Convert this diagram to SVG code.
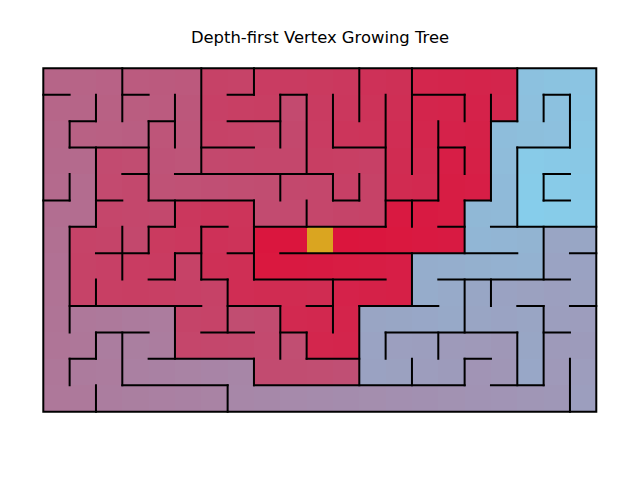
<svg xmlns="http://www.w3.org/2000/svg" width="640" height="480" viewBox="0 0 640 480">
<style>
.title{font-family:"DejaVu Sans","Liberation Sans",sans-serif;font-size:16.4px;fill:#000;text-anchor:middle}
.walls{fill:none;stroke:#000;stroke-width:2;stroke-linecap:square;vector-effect:non-scaling-stroke}
</style>
<defs>
<filter id="cmap" x="0" y="0" width="1" height="1" color-interpolation-filters="sRGB">
<feComponentTransfer>
<feFuncR type="linear" slope="-0.6204" intercept="0.8627"/>
<feFuncG type="linear" slope="1.3577" intercept="0.0784"/>
<feFuncB type="linear" slope="1.2774" intercept="0.2353"/>
</feComponentTransfer>
</filter>
</defs>
<rect width="640" height="480" fill="#fff"/>
<text class="title" x="320" y="43">Depth-first Vertex Growing Tree</text>
<g id="maze" transform="translate(43.3 68.3) scale(26.333 26.415)">
<g id="cells" filter="url(#cmap)" shape-rendering="crispEdges">
<rect x="0" y="0" width="1" height="1" fill="rgb(60,60,60)"/><rect x="1" y="0" width="1" height="1" fill="rgb(59,59,59)"/><rect x="2" y="0" width="1" height="1" fill="rgb(58,58,58)"/><rect x="3" y="0" width="1" height="1" fill="rgb(53,53,53)"/><rect x="4" y="0" width="1" height="1" fill="rgb(52,52,52)"/><rect x="5" y="0" width="1" height="1" fill="rgb(51,51,51)"/><rect x="6" y="0" width="1" height="1" fill="rgb(34,34,34)"/><rect x="7" y="0" width="1" height="1" fill="rgb(35,35,35)"/><rect x="8" y="0" width="1" height="1" fill="rgb(30,30,30)"/><rect x="9" y="0" width="1" height="1" fill="rgb(29,29,29)"/><rect x="10" y="0" width="1" height="1" fill="rgb(28,28,28)"/><rect x="11" y="0" width="1" height="1" fill="rgb(27,27,27)"/><rect x="12" y="0" width="1" height="1" fill="rgb(22,22,22)"/><rect x="13" y="0" width="1" height="1" fill="rgb(21,21,21)"/><rect x="14" y="0" width="1" height="1" fill="rgb(14,14,14)"/><rect x="15" y="0" width="1" height="1" fill="rgb(13,13,13)"/><rect x="16" y="0" width="1" height="1" fill="rgb(12,12,12)"/><rect x="17" y="0" width="1" height="1" fill="rgb(13,13,13)"/><rect x="18" y="0" width="1" height="1" fill="rgb(128,128,128)"/><rect x="19" y="0" width="1" height="1" fill="rgb(129,129,129)"/><rect x="20" y="0" width="1" height="1" fill="rgb(130,130,130)"/>
<rect x="0" y="1" width="1" height="1" fill="rgb(61,61,61)"/><rect x="1" y="1" width="1" height="1" fill="rgb(60,60,60)"/><rect x="2" y="1" width="1" height="1" fill="rgb(57,57,57)"/><rect x="3" y="1" width="1" height="1" fill="rgb(54,54,54)"/><rect x="4" y="1" width="1" height="1" fill="rgb(53,53,53)"/><rect x="5" y="1" width="1" height="1" fill="rgb(50,50,50)"/><rect x="6" y="1" width="1" height="1" fill="rgb(33,33,33)"/><rect x="7" y="1" width="1" height="1" fill="rgb(32,32,32)"/><rect x="8" y="1" width="1" height="1" fill="rgb(31,31,31)"/><rect x="9" y="1" width="1" height="1" fill="rgb(40,40,40)"/><rect x="10" y="1" width="1" height="1" fill="rgb(29,29,29)"/><rect x="11" y="1" width="1" height="1" fill="rgb(26,26,26)"/><rect x="12" y="1" width="1" height="1" fill="rgb(23,23,23)"/><rect x="13" y="1" width="1" height="1" fill="rgb(20,20,20)"/><rect x="14" y="1" width="1" height="1" fill="rgb(13,13,13)"/><rect x="15" y="1" width="1" height="1" fill="rgb(12,12,12)"/><rect x="16" y="1" width="1" height="1" fill="rgb(11,11,11)"/><rect x="17" y="1" width="1" height="1" fill="rgb(14,14,14)"/><rect x="18" y="1" width="1" height="1" fill="rgb(127,127,127)"/><rect x="19" y="1" width="1" height="1" fill="rgb(128,128,128)"/><rect x="20" y="1" width="1" height="1" fill="rgb(131,131,131)"/>
<rect x="0" y="2" width="1" height="1" fill="rgb(62,62,62)"/><rect x="1" y="2" width="1" height="1" fill="rgb(57,57,57)"/><rect x="2" y="2" width="1" height="1" fill="rgb(56,56,56)"/><rect x="3" y="2" width="1" height="1" fill="rgb(55,55,55)"/><rect x="4" y="2" width="1" height="1" fill="rgb(48,48,48)"/><rect x="5" y="2" width="1" height="1" fill="rgb(49,49,49)"/><rect x="6" y="2" width="1" height="1" fill="rgb(34,34,34)"/><rect x="7" y="2" width="1" height="1" fill="rgb(35,35,35)"/><rect x="8" y="2" width="1" height="1" fill="rgb(36,36,36)"/><rect x="9" y="2" width="1" height="1" fill="rgb(39,39,39)"/><rect x="10" y="2" width="1" height="1" fill="rgb(30,30,30)"/><rect x="11" y="2" width="1" height="1" fill="rgb(25,25,25)"/><rect x="12" y="2" width="1" height="1" fill="rgb(24,24,24)"/><rect x="13" y="2" width="1" height="1" fill="rgb(19,19,19)"/><rect x="14" y="2" width="1" height="1" fill="rgb(14,14,14)"/><rect x="15" y="2" width="1" height="1" fill="rgb(11,11,11)"/><rect x="16" y="2" width="1" height="1" fill="rgb(10,10,10)"/><rect x="17" y="2" width="1" height="1" fill="rgb(125,125,125)"/><rect x="18" y="2" width="1" height="1" fill="rgb(126,126,126)"/><rect x="19" y="2" width="1" height="1" fill="rgb(127,127,127)"/><rect x="20" y="2" width="1" height="1" fill="rgb(132,132,132)"/>
<rect x="0" y="3" width="1" height="1" fill="rgb(63,63,63)"/><rect x="1" y="3" width="1" height="1" fill="rgb(64,64,64)"/><rect x="2" y="3" width="1" height="1" fill="rgb(41,41,41)"/><rect x="3" y="3" width="1" height="1" fill="rgb(42,42,42)"/><rect x="4" y="3" width="1" height="1" fill="rgb(47,47,47)"/><rect x="5" y="3" width="1" height="1" fill="rgb(48,48,48)"/><rect x="6" y="3" width="1" height="1" fill="rgb(39,39,39)"/><rect x="7" y="3" width="1" height="1" fill="rgb(38,38,38)"/><rect x="8" y="3" width="1" height="1" fill="rgb(37,37,37)"/><rect x="9" y="3" width="1" height="1" fill="rgb(38,38,38)"/><rect x="10" y="3" width="1" height="1" fill="rgb(31,31,31)"/><rect x="11" y="3" width="1" height="1" fill="rgb(32,32,32)"/><rect x="12" y="3" width="1" height="1" fill="rgb(33,33,33)"/><rect x="13" y="3" width="1" height="1" fill="rgb(18,18,18)"/><rect x="14" y="3" width="1" height="1" fill="rgb(15,15,15)"/><rect x="15" y="3" width="1" height="1" fill="rgb(8,8,8)"/><rect x="16" y="3" width="1" height="1" fill="rgb(9,9,9)"/><rect x="17" y="3" width="1" height="1" fill="rgb(124,124,124)"/><rect x="18" y="3" width="1" height="1" fill="rgb(135,135,135)"/><rect x="19" y="3" width="1" height="1" fill="rgb(134,134,134)"/><rect x="20" y="3" width="1" height="1" fill="rgb(133,133,133)"/>
<rect x="0" y="4" width="1" height="1" fill="rgb(64,64,64)"/><rect x="1" y="4" width="1" height="1" fill="rgb(65,65,65)"/><rect x="2" y="4" width="1" height="1" fill="rgb(40,40,40)"/><rect x="3" y="4" width="1" height="1" fill="rgb(39,39,39)"/><rect x="4" y="4" width="1" height="1" fill="rgb(46,46,46)"/><rect x="5" y="4" width="1" height="1" fill="rgb(45,45,45)"/><rect x="6" y="4" width="1" height="1" fill="rgb(44,44,44)"/><rect x="7" y="4" width="1" height="1" fill="rgb(43,43,43)"/><rect x="8" y="4" width="1" height="1" fill="rgb(42,42,42)"/><rect x="9" y="4" width="1" height="1" fill="rgb(39,39,39)"/><rect x="10" y="4" width="1" height="1" fill="rgb(38,38,38)"/><rect x="11" y="4" width="1" height="1" fill="rgb(33,33,33)"/><rect x="12" y="4" width="1" height="1" fill="rgb(34,34,34)"/><rect x="13" y="4" width="1" height="1" fill="rgb(17,17,17)"/><rect x="14" y="4" width="1" height="1" fill="rgb(16,16,16)"/><rect x="15" y="4" width="1" height="1" fill="rgb(7,7,7)"/><rect x="16" y="4" width="1" height="1" fill="rgb(8,8,8)"/><rect x="17" y="4" width="1" height="1" fill="rgb(123,123,123)"/><rect x="18" y="4" width="1" height="1" fill="rgb(136,136,136)"/><rect x="19" y="4" width="1" height="1" fill="rgb(135,135,135)"/><rect x="20" y="4" width="1" height="1" fill="rgb(134,134,134)"/>
<rect x="0" y="5" width="1" height="1" fill="rgb(67,67,67)"/><rect x="1" y="5" width="1" height="1" fill="rgb(66,66,66)"/><rect x="2" y="5" width="1" height="1" fill="rgb(37,37,37)"/><rect x="3" y="5" width="1" height="1" fill="rgb(38,38,38)"/><rect x="4" y="5" width="1" height="1" fill="rgb(39,39,39)"/><rect x="5" y="5" width="1" height="1" fill="rgb(26,26,26)"/><rect x="6" y="5" width="1" height="1" fill="rgb(25,25,25)"/><rect x="7" y="5" width="1" height="1" fill="rgb(24,24,24)"/><rect x="8" y="5" width="1" height="1" fill="rgb(41,41,41)"/><rect x="9" y="5" width="1" height="1" fill="rgb(40,40,40)"/><rect x="10" y="5" width="1" height="1" fill="rgb(37,37,37)"/><rect x="11" y="5" width="1" height="1" fill="rgb(36,36,36)"/><rect x="12" y="5" width="1" height="1" fill="rgb(35,35,35)"/><rect x="13" y="5" width="1" height="1" fill="rgb(4,4,4)"/><rect x="14" y="5" width="1" height="1" fill="rgb(5,5,5)"/><rect x="15" y="5" width="1" height="1" fill="rgb(6,6,6)"/><rect x="16" y="5" width="1" height="1" fill="rgb(121,121,121)"/><rect x="17" y="5" width="1" height="1" fill="rgb(122,122,122)"/><rect x="18" y="5" width="1" height="1" fill="rgb(137,137,137)"/><rect x="19" y="5" width="1" height="1" fill="rgb(136,136,136)"/><rect x="20" y="5" width="1" height="1" fill="rgb(135,135,135)"/>
<rect x="0" y="6" width="1" height="1" fill="rgb(68,68,68)"/><rect x="1" y="6" width="1" height="1" fill="rgb(35,35,35)"/><rect x="2" y="6" width="1" height="1" fill="rgb(36,36,36)"/><rect x="3" y="6" width="1" height="1" fill="rgb(39,39,39)"/><rect x="4" y="6" width="1" height="1" fill="rgb(28,28,28)"/><rect x="5" y="6" width="1" height="1" fill="rgb(27,27,27)"/><rect x="6" y="6" width="1" height="1" fill="rgb(22,22,22)"/><rect x="7" y="6" width="1" height="1" fill="rgb(23,23,23)"/><rect x="8" y="6" width="1" height="1" fill="rgb(2,2,2)"/><rect x="9" y="6" width="1" height="1" fill="rgb(1,1,1)"/><rect x="10" y="6" width="1" height="1" fill="rgb(0,0,0)"/><rect x="11" y="6" width="1" height="1" fill="rgb(1,1,1)"/><rect x="12" y="6" width="1" height="1" fill="rgb(2,2,2)"/><rect x="13" y="6" width="1" height="1" fill="rgb(3,3,3)"/><rect x="14" y="6" width="1" height="1" fill="rgb(4,4,4)"/><rect x="15" y="6" width="1" height="1" fill="rgb(5,5,5)"/><rect x="16" y="6" width="1" height="1" fill="rgb(120,120,120)"/><rect x="17" y="6" width="1" height="1" fill="rgb(119,119,119)"/><rect x="18" y="6" width="1" height="1" fill="rgb(118,118,118)"/><rect x="19" y="6" width="1" height="1" fill="rgb(107,107,107)"/><rect x="20" y="6" width="1" height="1" fill="rgb(108,108,108)"/>
<rect x="0" y="7" width="1" height="1" fill="rgb(69,69,69)"/><rect x="1" y="7" width="1" height="1" fill="rgb(34,34,34)"/><rect x="2" y="7" width="1" height="1" fill="rgb(33,33,33)"/><rect x="3" y="7" width="1" height="1" fill="rgb(30,30,30)"/><rect x="4" y="7" width="1" height="1" fill="rgb(29,29,29)"/><rect x="5" y="7" width="1" height="1" fill="rgb(34,34,34)"/><rect x="6" y="7" width="1" height="1" fill="rgb(21,21,21)"/><rect x="7" y="7" width="1" height="1" fill="rgb(20,20,20)"/><rect x="8" y="7" width="1" height="1" fill="rgb(3,3,3)"/><rect x="9" y="7" width="1" height="1" fill="rgb(4,4,4)"/><rect x="10" y="7" width="1" height="1" fill="rgb(5,5,5)"/><rect x="11" y="7" width="1" height="1" fill="rgb(6,6,6)"/><rect x="12" y="7" width="1" height="1" fill="rgb(7,7,7)"/><rect x="13" y="7" width="1" height="1" fill="rgb(8,8,8)"/><rect x="14" y="7" width="1" height="1" fill="rgb(113,113,113)"/><rect x="15" y="7" width="1" height="1" fill="rgb(114,114,114)"/><rect x="16" y="7" width="1" height="1" fill="rgb(115,115,115)"/><rect x="17" y="7" width="1" height="1" fill="rgb(116,116,116)"/><rect x="18" y="7" width="1" height="1" fill="rgb(117,117,117)"/><rect x="19" y="7" width="1" height="1" fill="rgb(106,106,106)"/><rect x="20" y="7" width="1" height="1" fill="rgb(105,105,105)"/>
<rect x="0" y="8" width="1" height="1" fill="rgb(70,70,70)"/><rect x="1" y="8" width="1" height="1" fill="rgb(35,35,35)"/><rect x="2" y="8" width="1" height="1" fill="rgb(32,32,32)"/><rect x="3" y="8" width="1" height="1" fill="rgb(31,31,31)"/><rect x="4" y="8" width="1" height="1" fill="rgb(32,32,32)"/><rect x="5" y="8" width="1" height="1" fill="rgb(33,33,33)"/><rect x="6" y="8" width="1" height="1" fill="rgb(34,34,34)"/><rect x="7" y="8" width="1" height="1" fill="rgb(19,19,19)"/><rect x="8" y="8" width="1" height="1" fill="rgb(18,18,18)"/><rect x="9" y="8" width="1" height="1" fill="rgb(17,17,17)"/><rect x="10" y="8" width="1" height="1" fill="rgb(18,18,18)"/><rect x="11" y="8" width="1" height="1" fill="rgb(11,11,11)"/><rect x="12" y="8" width="1" height="1" fill="rgb(10,10,10)"/><rect x="13" y="8" width="1" height="1" fill="rgb(9,9,9)"/><rect x="14" y="8" width="1" height="1" fill="rgb(112,112,112)"/><rect x="15" y="8" width="1" height="1" fill="rgb(111,111,111)"/><rect x="16" y="8" width="1" height="1" fill="rgb(108,108,108)"/><rect x="17" y="8" width="1" height="1" fill="rgb(105,105,105)"/><rect x="18" y="8" width="1" height="1" fill="rgb(104,104,104)"/><rect x="19" y="8" width="1" height="1" fill="rgb(103,103,103)"/><rect x="20" y="8" width="1" height="1" fill="rgb(104,104,104)"/>
<rect x="0" y="9" width="1" height="1" fill="rgb(71,71,71)"/><rect x="1" y="9" width="1" height="1" fill="rgb(74,74,74)"/><rect x="2" y="9" width="1" height="1" fill="rgb(75,75,75)"/><rect x="3" y="9" width="1" height="1" fill="rgb(76,76,76)"/><rect x="4" y="9" width="1" height="1" fill="rgb(77,77,77)"/><rect x="5" y="9" width="1" height="1" fill="rgb(36,36,36)"/><rect x="6" y="9" width="1" height="1" fill="rgb(35,35,35)"/><rect x="7" y="9" width="1" height="1" fill="rgb(42,42,42)"/><rect x="8" y="9" width="1" height="1" fill="rgb(41,41,41)"/><rect x="9" y="9" width="1" height="1" fill="rgb(16,16,16)"/><rect x="10" y="9" width="1" height="1" fill="rgb(15,15,15)"/><rect x="11" y="9" width="1" height="1" fill="rgb(12,12,12)"/><rect x="12" y="9" width="1" height="1" fill="rgb(107,107,107)"/><rect x="13" y="9" width="1" height="1" fill="rgb(108,108,108)"/><rect x="14" y="9" width="1" height="1" fill="rgb(109,109,109)"/><rect x="15" y="9" width="1" height="1" fill="rgb(110,110,110)"/><rect x="16" y="9" width="1" height="1" fill="rgb(107,107,107)"/><rect x="17" y="9" width="1" height="1" fill="rgb(106,106,106)"/><rect x="18" y="9" width="1" height="1" fill="rgb(107,107,107)"/><rect x="19" y="9" width="1" height="1" fill="rgb(102,102,102)"/><rect x="20" y="9" width="1" height="1" fill="rgb(101,101,101)"/>
<rect x="0" y="10" width="1" height="1" fill="rgb(72,72,72)"/><rect x="1" y="10" width="1" height="1" fill="rgb(73,73,73)"/><rect x="2" y="10" width="1" height="1" fill="rgb(78,78,78)"/><rect x="3" y="10" width="1" height="1" fill="rgb(79,79,79)"/><rect x="4" y="10" width="1" height="1" fill="rgb(78,78,78)"/><rect x="5" y="10" width="1" height="1" fill="rgb(37,37,37)"/><rect x="6" y="10" width="1" height="1" fill="rgb(38,38,38)"/><rect x="7" y="10" width="1" height="1" fill="rgb(39,39,39)"/><rect x="8" y="10" width="1" height="1" fill="rgb(40,40,40)"/><rect x="9" y="10" width="1" height="1" fill="rgb(43,43,43)"/><rect x="10" y="10" width="1" height="1" fill="rgb(14,14,14)"/><rect x="11" y="10" width="1" height="1" fill="rgb(13,13,13)"/><rect x="12" y="10" width="1" height="1" fill="rgb(106,106,106)"/><rect x="13" y="10" width="1" height="1" fill="rgb(103,103,103)"/><rect x="14" y="10" width="1" height="1" fill="rgb(102,102,102)"/><rect x="15" y="10" width="1" height="1" fill="rgb(99,99,99)"/><rect x="16" y="10" width="1" height="1" fill="rgb(98,98,98)"/><rect x="17" y="10" width="1" height="1" fill="rgb(97,97,97)"/><rect x="18" y="10" width="1" height="1" fill="rgb(108,108,108)"/><rect x="19" y="10" width="1" height="1" fill="rgb(99,99,99)"/><rect x="20" y="10" width="1" height="1" fill="rgb(100,100,100)"/>
<rect x="0" y="11" width="1" height="1" fill="rgb(73,73,73)"/><rect x="1" y="11" width="1" height="1" fill="rgb(76,76,76)"/><rect x="2" y="11" width="1" height="1" fill="rgb(77,77,77)"/><rect x="3" y="11" width="1" height="1" fill="rgb(80,80,80)"/><rect x="4" y="11" width="1" height="1" fill="rgb(81,81,81)"/><rect x="5" y="11" width="1" height="1" fill="rgb(82,82,82)"/><rect x="6" y="11" width="1" height="1" fill="rgb(83,83,83)"/><rect x="7" y="11" width="1" height="1" fill="rgb(84,84,84)"/><rect x="8" y="11" width="1" height="1" fill="rgb(41,41,41)"/><rect x="9" y="11" width="1" height="1" fill="rgb(42,42,42)"/><rect x="10" y="11" width="1" height="1" fill="rgb(43,43,43)"/><rect x="11" y="11" width="1" height="1" fill="rgb(44,44,44)"/><rect x="12" y="11" width="1" height="1" fill="rgb(105,105,105)"/><rect x="13" y="11" width="1" height="1" fill="rgb(104,104,104)"/><rect x="14" y="11" width="1" height="1" fill="rgb(101,101,101)"/><rect x="15" y="11" width="1" height="1" fill="rgb(100,100,100)"/><rect x="16" y="11" width="1" height="1" fill="rgb(95,95,95)"/><rect x="17" y="11" width="1" height="1" fill="rgb(96,96,96)"/><rect x="18" y="11" width="1" height="1" fill="rgb(109,109,109)"/><rect x="19" y="11" width="1" height="1" fill="rgb(98,98,98)"/><rect x="20" y="11" width="1" height="1" fill="rgb(101,101,101)"/>
<rect x="0" y="12" width="1" height="1" fill="rgb(74,74,74)"/><rect x="1" y="12" width="1" height="1" fill="rgb(75,75,75)"/><rect x="2" y="12" width="1" height="1" fill="rgb(78,78,78)"/><rect x="3" y="12" width="1" height="1" fill="rgb(79,79,79)"/><rect x="4" y="12" width="1" height="1" fill="rgb(80,80,80)"/><rect x="5" y="12" width="1" height="1" fill="rgb(81,81,81)"/><rect x="6" y="12" width="1" height="1" fill="rgb(82,82,82)"/><rect x="7" y="12" width="1" height="1" fill="rgb(85,85,85)"/><rect x="8" y="12" width="1" height="1" fill="rgb(86,86,86)"/><rect x="9" y="12" width="1" height="1" fill="rgb(87,87,87)"/><rect x="10" y="12" width="1" height="1" fill="rgb(88,88,88)"/><rect x="11" y="12" width="1" height="1" fill="rgb(89,89,89)"/><rect x="12" y="12" width="1" height="1" fill="rgb(90,90,90)"/><rect x="13" y="12" width="1" height="1" fill="rgb(91,91,91)"/><rect x="14" y="12" width="1" height="1" fill="rgb(92,92,92)"/><rect x="15" y="12" width="1" height="1" fill="rgb(93,93,93)"/><rect x="16" y="12" width="1" height="1" fill="rgb(94,94,94)"/><rect x="17" y="12" width="1" height="1" fill="rgb(95,95,95)"/><rect x="18" y="12" width="1" height="1" fill="rgb(96,96,96)"/><rect x="19" y="12" width="1" height="1" fill="rgb(97,97,97)"/><rect x="20" y="12" width="1" height="1" fill="rgb(102,102,102)"/>
</g>
<rect id="start" x="10" y="6" width="1" height="1" fill="#daa520" shape-rendering="crispEdges"/>
<g id="walls">
<path class="walls" d="M0 1H1M3 1H4M7 1H8M9 1H10M14 1H16M19 1H20M1 2H2M4 2H5M7 2H9M17 2H18M1 3H4M6 3H8M11 3H13M15 3H16M18 3H20M3 4H4M5 4H11M19 4H20M0 5H1M2 5H3M4 5H8M11 5H12M13 5H15M16 5H17M19 5H20M1 6H2M4 6H5M6 6H7M8 6H13M15 6H16M17 6H21M2 7H4M5 7H6M7 7H8M9 7H18M20 7H21M4 8H5M6 8H7M8 8H13M15 8H20M1 9H6M7 9H9M10 9H11M12 9H15M18 9H19M20 9H21M2 10H4M6 10H8M9 10H10M13 10H18M19 10H20M1 11H2M4 11H8M10 11H12M16 11H17M3 12H7M8 12H16M17 12H19"/>
<path class="walls" d="M1 2V3M1 4V5M1 6V10M1 11V12M2 1V2M2 3V6M2 8V9M2 10V11M2 12V13M3 0V2M3 6V8M3 10V12M4 2V5M4 6V7M5 1V3M5 5V6M5 7V8M5 9V11M6 0V4M6 6V8M7 8V10M7 12V13M8 0V1M8 5V8M8 11V12M9 1V3M9 4V5M9 9V11M10 1V4M10 5V6M10 10V11M11 1V3M11 4V5M11 8V10M12 0V2M12 4V5M12 9V12M13 1V6M13 10V11M14 0V4M14 5V6M14 7V9M14 11V12M15 2V5M15 10V11M16 1V2M16 3V4M16 5V7M16 8V10M16 11V12M17 1V5M17 8V9M18 0V2M18 3V6M18 10V12M19 1V2M19 4V5M19 6V8M19 9V12M20 1V3M20 11V13"/>
<rect class="walls" x="0" y="0" width="21" height="13"/>
</g>
</g>
</svg>
